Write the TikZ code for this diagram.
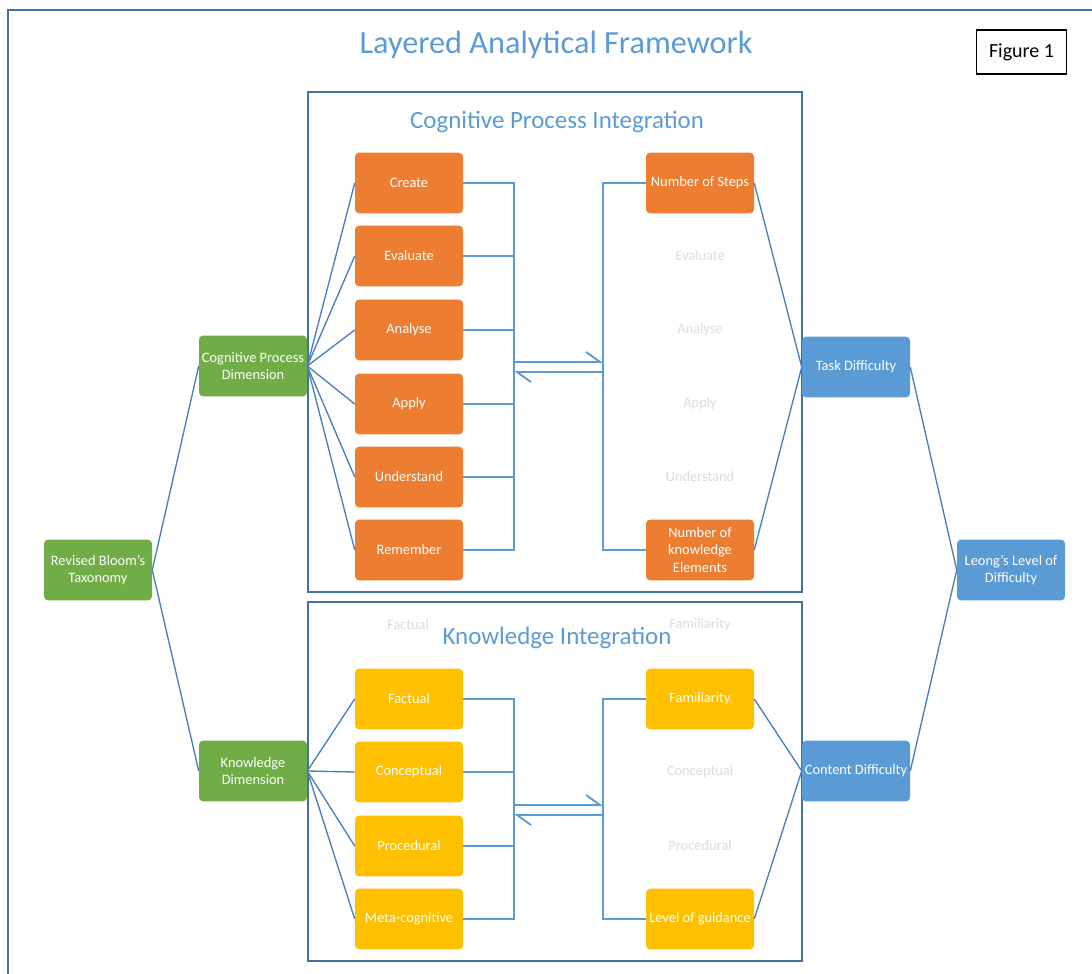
\documentclass[tikz,border=0pt]{standalone}
\usepackage{fontspec}
\setmainfont{Carlito}
\usetikzlibrary{arrows.meta}
\definecolor{orangeacc}{RGB}{237,125,49}
\definecolor{yellowacc}{RGB}{255,192,0}
\definecolor{greenacc}{RGB}{112,173,71}
\definecolor{blueacc}{RGB}{91,155,213}
\definecolor{frameblue}{RGB}{65,113,156}
\definecolor{linkblue}{RGB}{74,126,187}

\tikzset{
  box/.style={rounded corners=3pt, minimum width=81pt, minimum height=45.5pt, inner sep=1pt,
    text=white, align=center, font=\fontsize{10.8}{13}\selectfont},
  orangebox/.style={box, fill=orangeacc},
  yellowbox/.style={box, fill=yellowacc},
  greenbox/.style={box, fill=greenacc},
  bluebox/.style={box, fill=blueacc},
  ghost/.style={text=black!14, font=\fontsize{10.8}{13}\selectfont},
  panel/.style={draw=frameblue, line width=1.2pt},
  link/.style={draw=linkblue, line width=1pt},
  bracket/.style={draw=blueacc, line width=1.4pt},
  harp/.style={bracket, -{Straight Barb[left, length=10.5pt, width=15pt]}}
}

\begin{document}
\begin{tikzpicture}[x=0.75pt,y=0.75pt,yscale=-1.,xscale=1.]
    \useasboundingbox (0,0) rectangle (1092,974);

    %Outer frame
    \draw [frameblue, line width=1.2pt] (1092,10) -- (8,10) -- (8,974) ;
    % Text Node
    \node (title) at (556,45) [text=blueacc, font=\fontsize{24.2}{28}\selectfont] {Layered Analytical Framework};
    % Text Node
    \node (fig) at (1021.5,52) [draw, line width=0.8pt, minimum width=68pt, minimum height=33pt, font=\fontsize{15}{18}\selectfont] {Figure 1};

    %Panels
    \draw [panel] (308,92) rectangle (802,592) ;
    \draw [panel] (308,602) rectangle (802,961) ;
    \node (cpititle) at (557,122) [text=blueacc, font=\fontsize{18.7}{22}\selectfont] {Cognitive Process Integration};
    % ghost labels
    \node (ghfact) at (408,625) [ghost] {Factual};
    \node (ghfam) at (700,625) [ghost] {Familiarity};
    \node (kititle) at (557,638) [text=blueacc, font=\fontsize{18.7}{22}\selectfont] {Knowledge Integration};

    %Left column
    \node (rbt) at (98,570) [greenbox] {Revised Bloom's\\Taxonomy};
    \node (cpd) at (253,366) [greenbox] {Cognitive Process\\Dimension};
    \node (kd) at (253,771) [greenbox] {Knowledge\\Dimension};

    %Cognitive process boxes
    \node (create) at (409,183) [orangebox] {Create};
    \node (evaluate) at (409,256) [orangebox] {Evaluate};
    \node (analyse) at (409,330) [orangebox] {Analyse};
    \node (apply) at (409,404) [orangebox] {Apply};
    \node (understand) at (409,477) [orangebox] {Understand};
    \node (remember) at (409,550) [orangebox] {Remember};

    \node (steps) at (700,183) [orangebox] {Number of Steps};
    \node (ghevaluate) at (700,256) [ghost] {Evaluate};
    \node (ghanalyse) at (700,330) [ghost] {Analyse};
    \node (ghapply) at (700,404) [ghost] {Apply};
    \node (ghunderstand) at (700,477) [ghost] {Understand};
    \node (elements) at (700,550) [orangebox] {Number of\\knowledge\\Elements};

    %Knowledge boxes
    \node (factual) at (409,699) [yellowbox] {Factual};
    \node (conceptual) at (409,772) [yellowbox] {Conceptual};
    \node (procedural) at (409,846) [yellowbox] {Procedural};
    \node (metacog) at (409,919) [yellowbox] {Meta-cognitive};

    \node (familiarity) at (700,699) [yellowbox] {Familiarity};
    \node (ghconceptual) at (700,772) [ghost] {Conceptual};
    \node (ghprocedural) at (700,846) [ghost] {Procedural};
    \node (guidance) at (700,919) [yellowbox] {Level of guidance};

    %Right column
    \node (task) at (856,367) [bluebox] {Task Difficulty};
    \node (content) at (856,771) [bluebox] {Content Difficulty};
    \node (leong) at (1011,570) [bluebox] {Leong’s Level of\\Difficulty};

    %Tree links
    \draw [link] (rbt.east) -- (cpd.west) ;
    \draw [link] (rbt.east) -- (kd.west) ;
    \foreach \b in {create,evaluate,analyse,apply,understand,remember}
      \draw [link] (cpd.east) -- (\b.west) ;
    \foreach \b in {factual,conceptual,procedural,metacog}
      \draw [link] (kd.east) -- (\b.west) ;
    \draw [link] (steps.east) -- (task.west) ;
    \draw [link] (elements.east) -- (task.west) ;
    \draw [link] (familiarity.east) -- (content.west) ;
    \draw [link] (guidance.east) -- (content.west) ;
    \draw [link] (task.east) -- (leong.west) ;
    \draw [link] (content.east) -- (leong.west) ;

    %Brackets, cognitive
    \coordinate (cl) at (514,0) ;
    \coordinate (cr) at (603,0) ;
    \draw [bracket] (create.east) -- (create.east -| cl) -- (remember.east -| cl) -- (remember.east) ;
    \foreach \b in {evaluate,analyse,apply,understand}
      \draw [bracket] (\b.east) -- (\b.east -| cl) ;
    \draw [bracket] (steps.west) -- (steps.west -| cr) -- (elements.west -| cr) -- (elements.west) ;
    \coordinate (ca1) at (514,362) ;
    \coordinate (ca2) at (603,362) ;
    \coordinate (cb1) at (603,372) ;
    \coordinate (cb2) at (514,372) ;
    \draw [harp] (ca1) -- (ca2) ;
    \draw [harp] (cb1) -- (cb2) ;

    %Brackets, knowledge
    \draw [bracket] (factual.east) -- (factual.east -| cl) -- (metacog.east -| cl) -- (metacog.east) ;
    \foreach \b in {conceptual,procedural}
      \draw [bracket] (\b.east) -- (\b.east -| cl) ;
    \draw [bracket] (familiarity.west) -- (familiarity.west -| cr) -- (guidance.west -| cr) -- (guidance.west) ;
    \coordinate (ka1) at (514,805) ;
    \coordinate (ka2) at (603,805) ;
    \coordinate (kb1) at (603,815) ;
    \coordinate (kb2) at (514,815) ;
    \draw [harp] (ka1) -- (ka2) ;
    \draw [harp] (kb1) -- (kb2) ;

\end{tikzpicture}
\end{document}
